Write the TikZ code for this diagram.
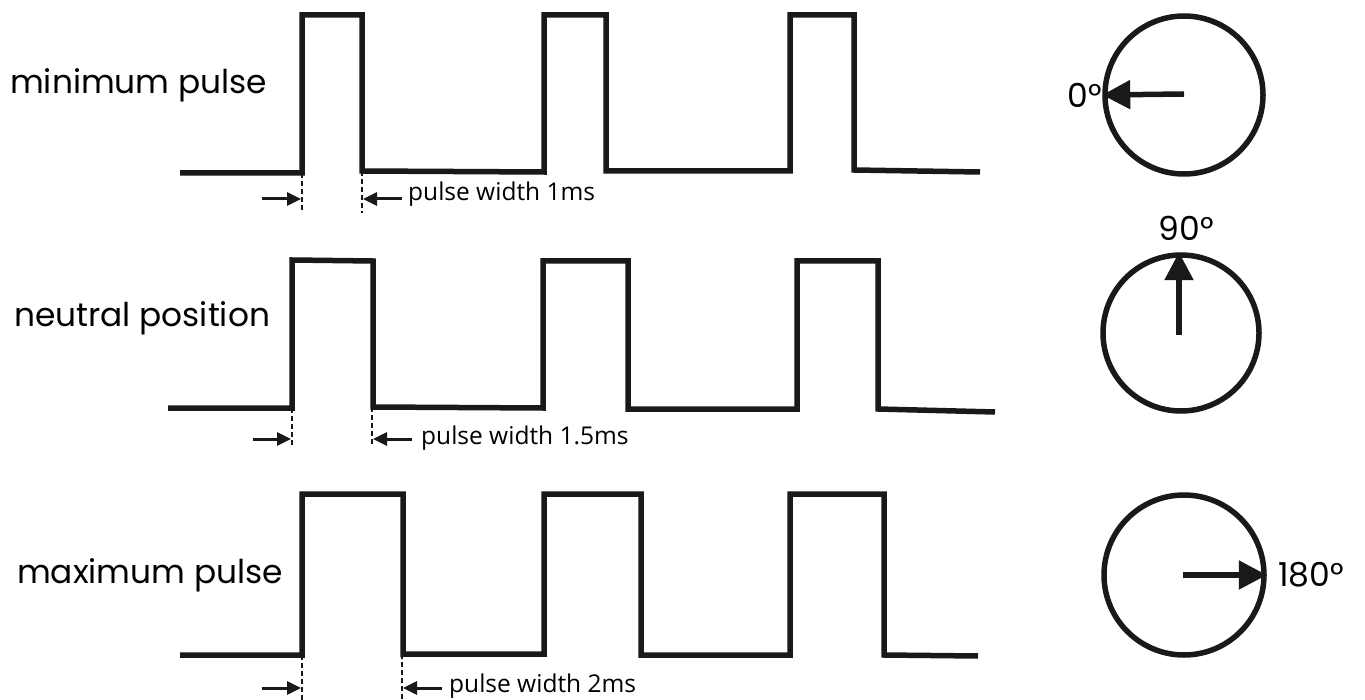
\documentclass[tikz,border=0pt]{standalone}
\usepackage{fontspec}
\setmainfont{Poppins}
\newfontfamily\smallfont{Open Sans}
\usetikzlibrary{arrows.meta}
\begin{document}
\begin{tikzpicture}[x=1pt,y=-1pt,
  wave/.style={line width=5.5pt, line join=miter, black!90},
  dashmark/.style={line width=2.8pt, dash pattern=on 5pt off 3pt, black!90},
  widtharrow/.style={line width=3pt, -{Triangle[length=14pt,width=13pt]}, black!90},
  dial/.style={line width=5.5pt, black!90},
  needle/.style={line width=5.5pt, -{Triangle[length=28pt,width=28pt]}, black!90},
  bigtext/.style={font=\fontsize{32.8}{33}\selectfont, inner sep=0pt, anchor=west},
  degtext/.style={font=\fontsize{33}{33}\selectfont, inner sep=0pt},
  smalltext/.style={font=\smallfont\fontsize{24.5}{25}\selectfont, inner sep=0pt, anchor=west}]
\useasboundingbox (0,0) rectangle (1365,700);

% ---------- row 1: minimum pulse ----------
\node[bigtext] (lab1) at (10,85) {minimum pulse};
\draw[wave] (180,173) -- (302,173) -- (302,15) -- (362,15) -- (362,171) -- (544,172) -- (544,15) -- (606,15) -- (606,171) -- (790,171) -- (790,15) -- (854,15) -- (854,170) -- (980,172);
\coordinate (r1a) at (302,173);
\coordinate (r1b) at (362,171);
\coordinate (r1ad) at (302,213);
\coordinate (r1bd) at (362,213);
\draw[dashmark] (r1a) -- (r1ad);
\draw[dashmark] (r1b) -- (r1bd);
\coordinate (r1s) at (262,199);
\coordinate (r1e) at (301,199);
\coordinate (r1t) at (402,199);
\coordinate (r1u) at (363,199);
\draw[widtharrow] (r1s) -- (r1e);
\draw[widtharrow] (r1t) -- (r1u);
\node[smalltext] (pw1) at (408,194) {pulse width 1ms};

% ---------- row 2: neutral position ----------
\node[bigtext] (lab2) at (14,318) {neutral position};
\draw[wave] (168,408) -- (292,408) -- (292,260) -- (373,261) -- (373,407) -- (543,408) -- (543,261) -- (628,261) -- (628,409) -- (797,409) -- (797,261) -- (878,261) -- (878,409) -- (995,412);
\coordinate (r2a) at (292,408);
\coordinate (r2b) at (372,407);
\coordinate (r2ad) at (292,445);
\coordinate (r2bd) at (372,445);
\draw[dashmark] (r2a) -- (r2ad);
\draw[dashmark] (r2b) -- (r2bd);
\coordinate (r2s) at (253,439);
\coordinate (r2e) at (291,439);
\coordinate (r2t) at (412,439);
\coordinate (r2u) at (373,439);
\draw[widtharrow] (r2s) -- (r2e);
\draw[widtharrow] (r2t) -- (r2u);
\node[smalltext] (pw2) at (421,438) {pulse width 1.5ms};

% ---------- row 3: maximum pulse ----------
\node[bigtext] (lab3) at (17,575) {maximum pulse};
\draw[wave] (180,655) -- (302,655) -- (302,494) -- (403,494) -- (403,654) -- (544,654) -- (544,494) -- (641,494) -- (641,655) -- (790,655) -- (790,494) -- (884,494) -- (884,655) -- (978,656);
\coordinate (r3a) at (302,655);
\coordinate (r3b) at (402,654);
\coordinate (r3ad) at (302,700);
\coordinate (r3bd) at (402,700);
\draw[dashmark] (r3a) -- (r3ad);
\draw[dashmark] (r3b) -- (r3bd);
\coordinate (r3s) at (262,688);
\coordinate (r3e) at (301,688);
\coordinate (r3t) at (442,688);
\coordinate (r3u) at (403,688);
\draw[widtharrow] (r3s) -- (r3e);
\draw[widtharrow] (r3t) -- (r3u);
\node[smalltext] (pw3) at (449,686) {pulse width 2ms};

% ---------- dials ----------
\node[dial, circle, minimum size=158pt, draw, inner sep=0pt] (c1) at (1184,95) {};
\coordinate (c1c) at (1184,94);
\draw[needle] (c1c) -- (c1.west);
\node[degtext, anchor=east] (d1) at (1102,95) {0°};

\node[dial, circle, minimum size=156pt, draw, inner sep=0pt] (c2) at (1181,333) {};
\coordinate (c2c) at (1179,335);
\draw[needle] (c2c) -- (c2.north -| c2c);
\node[degtext] (d2) at (1186,228) {90°};

\node[dial, circle, minimum size=160pt, draw, inner sep=0pt] (c3) at (1184,575) {};
\coordinate (c3c) at (1183,575);
\draw[needle] (c3c) -- (c3.east);
\node[degtext, anchor=west] (d3) at (1278,575) {180°};
\end{tikzpicture}
\end{document}
